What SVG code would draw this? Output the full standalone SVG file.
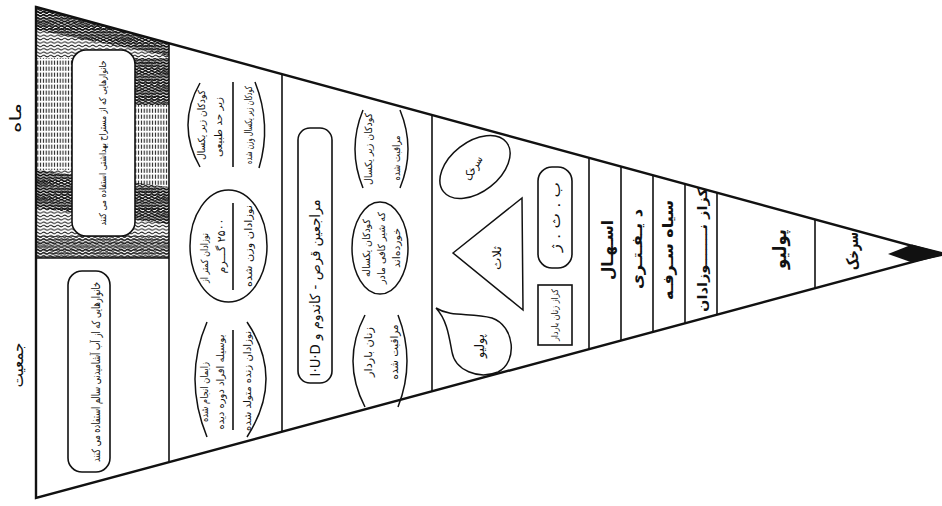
<svg xmlns="http://www.w3.org/2000/svg" width="942" height="506" viewBox="0 0 942 506">
<defs>
<style>
.t{font-family:"DejaVu Sans",sans-serif;fill:#111;text-anchor:middle;dominant-baseline:central;direction:rtl;unicode-bidi:embed}
.b{font-weight:bold}
.ln{stroke:#111;stroke-width:1.6;fill:none}
.sh{stroke:#111;stroke-width:1.6;fill:#fff}
.arc{stroke:#111;stroke-width:1.5;fill:none}
</style>
<pattern id="wave" width="7" height="3.4" patternUnits="userSpaceOnUse"><path d="M0,1.7 Q1.75,0.1 3.5,1.7 T7,1.7" fill="none" stroke="#222" stroke-width="1"/></pattern>
<pattern id="waveD" width="6" height="2.8" patternUnits="userSpaceOnUse"><path d="M0,1.4 Q1.5,0 3,1.4 T6,1.4" fill="none" stroke="#000" stroke-width="1.3"/></pattern>
<pattern id="dash" width="2.8" height="6" patternUnits="userSpaceOnUse"><line x1="1.4" y1="0.6" x2="1.4" y2="4.8" stroke="#222" stroke-width="1.1"/></pattern>
<clipPath id="cTop"><polygon points="36,7 169,43.3 169,258 36,258"/></clipPath>
</defs>
<rect width="942" height="506" fill="#fff"/>

<g id="labels">
<text class="t" font-size="16" textLength="30" lengthAdjust="spacingAndGlyphs" transform="translate(15,118) rotate(-90)">ماه</text>
<text class="t" font-size="16" textLength="45" lengthAdjust="spacingAndGlyphs" transform="translate(17,365) rotate(-90)">جمعیت</text>
</g>

<g id="sec1-top">
<g clip-path="url(#cTop)">
<rect x="36" y="7" width="133" height="251" fill="#fff"/>
<rect x="36" y="7" width="133" height="251" fill="url(#wave)"/>
<rect x="36" y="58" width="36" height="112" fill="#fff"/>
<rect x="36" y="58" width="36" height="112" fill="url(#dash)"/>
<rect x="135" y="105" width="34" height="82" fill="#fff"/>
<rect x="135" y="105" width="34" height="82" fill="url(#dash)"/>
<polygon points="36,170 169,187 169,224 36,208" fill="url(#waveD)"/>
<polygon points="135,58 169,58 169,105 135,105" fill="url(#waveD)"/>
<polygon points="36,7 169,43 169,56 36,30" fill="url(#waveD)"/>
<polygon points="36,236 169,236 169,258 36,258" fill="url(#waveD)" opacity="0.7"/>
</g>
</g>
<g id="box-top">
<rect x="72" y="50" width="63" height="186" rx="14" class="sh"/>
<text class="t" font-size="9.5" textLength="165" lengthAdjust="spacingAndGlyphs" transform="translate(102,143) rotate(-90)">خانوارهایی که از مستراح بهداشتی استفاده می کنند</text>
</g>

<g id="sec1-bottom">
<rect x="68" y="271" width="42" height="201" rx="14" class="sh"/>
<text class="t" font-size="11.5" textLength="180" lengthAdjust="spacingAndGlyphs" transform="translate(96,372) rotate(-90)">خانوارهایی که از آب آشامیدنی سالم استفاده می کنند</text>
</g>

<g id="sec2">
<path class="arc" d="M200,83 Q176,125 200,167"/>
<path class="arc" d="M255,82 Q272,125 259,168"/>
<line class="ln" x1="233" y1="82" x2="233" y2="167"/>
<text class="t" font-size="10" textLength="70" lengthAdjust="spacingAndGlyphs" transform="translate(201,125) rotate(-90)">کودکان زیر یکسال</text>
<text class="t" font-size="10" textLength="60" lengthAdjust="spacingAndGlyphs" transform="translate(218,127) rotate(-90)">زیر حد طبیعی</text>
<text class="t" font-size="10" textLength="78" lengthAdjust="spacingAndGlyphs" transform="translate(248,125) rotate(-90)">کودکان زیر یکسال وزن شده</text>

<ellipse cx="228.5" cy="246" rx="38.5" ry="56" class="arc"/>
<line class="ln" x1="233" y1="203" x2="233" y2="290"/>
<text class="t" font-size="10" textLength="50" lengthAdjust="spacingAndGlyphs" transform="translate(204,258) rotate(-90)">نوزادان کمتر از</text>
<text class="t" font-size="11" textLength="55" lengthAdjust="spacingAndGlyphs" transform="translate(221,246) rotate(-90)">۲۵۰۰ گـــرم</text>
<text class="t" font-size="10" textLength="82" lengthAdjust="spacingAndGlyphs" transform="translate(248,246) rotate(-90)">نوزادان وزن شده</text>

<path class="arc" d="M207,322 Q183,378 207,437"/>
<path class="arc" d="M247,322 Q285,378 247,437"/>
<line class="ln" x1="233" y1="330" x2="233" y2="430"/>
<text class="t" font-size="10" textLength="60" lengthAdjust="spacingAndGlyphs" transform="translate(204,392) rotate(-90)">زایمان انجام شده</text>
<text class="t" font-size="10" textLength="95" lengthAdjust="spacingAndGlyphs" transform="translate(220,382) rotate(-90)">بوسیله افراد دوره دیده</text>
<text class="t" font-size="10" textLength="100" lengthAdjust="spacingAndGlyphs" transform="translate(247,381) rotate(-90)">نوزادان زنده متولد شده</text>
</g>

<g id="sec3">
<rect x="298" y="128" width="34" height="255" rx="12" class="sh" stroke-width="2"/>
<text class="t" font-size="14" textLength="177" lengthAdjust="spacingAndGlyphs" transform="translate(315,288) rotate(-90)">مراجعین قرص - کاندوم و I·U·D</text>

<path class="arc" d="M363,110 Q347,149 363,188"/>
<path class="arc" d="M400,110 Q416,149 400,188"/>
<text class="t" font-size="10" textLength="72" lengthAdjust="spacingAndGlyphs" transform="translate(368,149) rotate(-90)">کودکان زیر یکسال</text>
<text class="t" font-size="10" textLength="45" lengthAdjust="spacingAndGlyphs" transform="translate(396,158) rotate(-90)">مراقبت شده</text>

<ellipse cx="380" cy="248" rx="28" ry="46" class="arc"/>
<text class="t" font-size="10" textLength="58" lengthAdjust="spacingAndGlyphs" transform="translate(366,248) rotate(-90)">کودکان یکساله</text>
<text class="t" font-size="10" textLength="72" lengthAdjust="spacingAndGlyphs" transform="translate(381,248) rotate(-90)">که شیر کافی مادر</text>
<text class="t" font-size="10" textLength="40" lengthAdjust="spacingAndGlyphs" transform="translate(396,248) rotate(-90)">خورده‌اند</text>

<path class="arc" d="M365,315 Q341,361 365,407"/>
<path class="arc" d="M398,315 Q416,361 398,407"/>
<text class="t" font-size="11" textLength="50" lengthAdjust="spacingAndGlyphs" transform="translate(368,352) rotate(-90)">زنان باردار</text>
<text class="t" font-size="11" textLength="55" lengthAdjust="spacingAndGlyphs" transform="translate(394,352) rotate(-90)">مراقبت شده</text>
</g>

<g id="sec4">
<ellipse cx="475" cy="167" rx="40" ry="25" transform="rotate(-38 475 167)" class="arc"/>
<text class="t" font-size="12" textLength="26" lengthAdjust="spacingAndGlyphs" transform="translate(473,168) rotate(-60)">سرخک</text>
<polygon points="453,253 522,198 523,310" class="arc"/>
<text class="t" font-size="12" textLength="24" lengthAdjust="spacingAndGlyphs" transform="translate(497,258) rotate(-90)">ثلاث</text>
<path class="arc" d="M436,308 C452,318 470,312 492,318 C515,326 518,362 498,372 C478,380 455,370 452,352 C449,336 447,320 436,308 Z"/>
<text class="t" font-size="13" textLength="24" lengthAdjust="spacingAndGlyphs" transform="translate(479,346) rotate(-90)">پولیو</text>
<rect x="538" y="167" width="34" height="101" rx="14" class="sh"/>
<text class="t" font-size="14" textLength="70" lengthAdjust="spacingAndGlyphs" transform="translate(555,217) rotate(-90)">ب . ث . ژ</text>
<rect x="538" y="285" width="34" height="60" class="sh"/>
<text class="t" font-size="9" textLength="52" lengthAdjust="spacingAndGlyphs" transform="translate(555,315) rotate(-90)">کزاز زنان باردار</text>
</g>

<g id="sec5-10">
<text class="t b" font-size="16" textLength="60" lengthAdjust="spacingAndGlyphs" transform="translate(607,250) rotate(-90)">اسـهـال</text>
<text class="t b" font-size="15" textLength="80" lengthAdjust="spacingAndGlyphs" transform="translate(637,249) rotate(-90)">د یـفـتـری</text>
<text class="t b" font-size="15" textLength="100" lengthAdjust="spacingAndGlyphs" transform="translate(668,250) rotate(-90)">سیاه سـرفـه</text>
<text class="t b" font-size="13" textLength="124" lengthAdjust="spacingAndGlyphs" transform="translate(702,250) rotate(-90)">کزاز نـــــــوزادان</text>
<text class="t b" font-size="18" textLength="40" lengthAdjust="spacingAndGlyphs" transform="translate(779,249) rotate(-90)">پولیو</text>
<text class="t b" font-size="16" textLength="38" lengthAdjust="spacingAndGlyphs" transform="translate(852,251) rotate(-90)">سرخک</text>
</g>

<g id="frame">
<line class="ln" x1="36" y1="258" x2="169" y2="258"/>
<line class="ln" x1="169" y1="43.3" x2="169" y2="462.2"/>
<line class="ln" x1="282" y1="74.1" x2="282" y2="431.8"/>
<line class="ln" x1="432" y1="115" x2="432" y2="391.5"/>
<line class="ln" x1="589" y1="157.7" x2="589" y2="349.2"/>
<line class="ln" x1="621" y1="166.5" x2="621" y2="340.6"/>
<line class="ln" x1="653" y1="175.2" x2="653" y2="332"/>
<line class="ln" x1="685" y1="183.9" x2="685" y2="323.4"/>
<line class="ln" x1="717" y1="192.6" x2="717" y2="314.8"/>
<line class="ln" x1="815" y1="219.4" x2="815" y2="288.4"/>
<polygon points="36,7 942,254 36,498" fill="none" stroke="#111" stroke-width="2.4" stroke-linejoin="miter"/>
<polygon points="888,254 912,244.5 942,252 942,256 912,262.5" fill="#111"/>
</g>
</svg>
